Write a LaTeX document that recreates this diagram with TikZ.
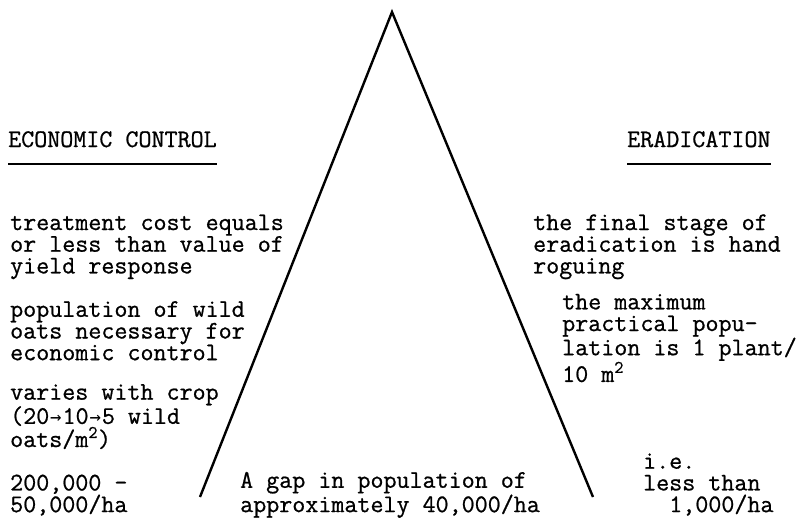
\documentclass[tikz,border=0pt]{standalone}
\usepackage{fontspec}
\newfontfamily\typeface{Latin Modern Mono}[FakeBold=0.8]
\newfontfamily\arrowface{DejaVu Sans Mono}
\newcommand{\typew}{\fontsize{25.3}{21.7}\selectfont\typeface}
\newcommand{\yields}{\makebox[0.525em]{\fontsize{19}{19}\selectfont\arrowface →}}
\begin{document}
\begin{tikzpicture}[x=1pt,y=-1pt,
  note/.style={anchor=base west,align=left,inner sep=0pt,font=\typew},
  side/.style={line width=2.4pt,line join=miter},
  rule/.style={line width=1.3pt}]
  \useasboundingbox (0,0) rectangle (804,519);

  % the peak
  \coordinate (apex) at (392,12);
  \coordinate (lfoot) at (200,497);
  \coordinate (rfoot) at (593,497);
  \draw[side] (lfoot) -- (apex) -- (rfoot);

  % headings
  \node[note] (econ) at (8,147) {ECONOMIC CONTROL};
  \node[note] (erad) at (627,147) {ERADICATION};
  \draw[rule] ([yshift=-17pt]econ.base west) -- ([yshift=-17pt]econ.base east);
  \draw[rule] ([yshift=-17pt]erad.base west) -- ([yshift=-17pt]erad.base east);

  % economic control side (nodes sit on their last line)
  \node[note] (cost) at (10,273.4)
    {treatment cost equals\\or less than value of\\yield response};
  \node[note] (need) at (10,360.2)
    {population of wild\\oats necessary for\\economic control};
  \node[note] (crop) at (10,447)
    {varies with crop\\(20\yields10\yields5 wild\\oats/m\textsuperscript{2})};
  \node[note] (high) at (10,512.1)
    {200,000 -\\50,000/ha};

  % the gap
  \node[note] (gap) at (240,512.1)
    {A gap in population of\\approximately 40,000/ha};

  % eradication side
  \node[note] (hand) at (533,273.4)
    {the final stage of\\eradication is hand\\roguing};
  \node[note] (max) at (562,381.9)
    {the maximum\\practical popu-\\lation is 1 plant/\\10 m\textsuperscript{2}};
  \node[note] (low) at (643,512.1)
    {i.e.\\less than\\\phantom{ab}1,000/ha};
\end{tikzpicture}
\end{document}
